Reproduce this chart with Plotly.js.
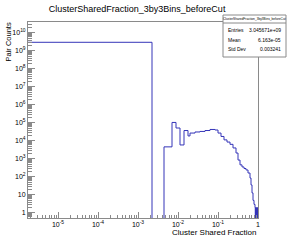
<!DOCTYPE html>
<html>
<head>
<meta charset="utf-8">
<script src="https://cdn.plot.ly/plotly-3.0.1.min.js"></script>
<style>html,body{margin:0;padding:0;background:#fff;}#chart{width:288px;height:241px;}</style>
</head>
<body>
<div id="chart"></div>
<script>
// Histogram bin edges (Cluster Shared Fraction) and counts (Pair Counts)
const binEdges = [1e-6, 0.002239, 0.00447, 0.00708, 0.00891, 0.01122, 0.01413, 0.01778, 0.01995,
  0.02661, 0.03548, 0.04732, 0.0631, 0.0841, 0.1, 0.1189, 0.1413, 0.1679, 0.1995, 0.2371,
  0.2818, 0.3162, 0.3548, 0.3981, 0.4467, 0.5012, 0.5623, 0.6310, 0.6683, 0.7079, 0.7499,
  0.7943, 0.8414, 0.855, 0.866, 0.879, 0.8913, 0.905, 0.9173, 0.931, 0.9441, 0.958, 0.9716, 0.985, 1.0];
const binCounts = [3.04e9, 0, 4700, 107000, 52500, 6000, 38000, 19000, 27500,
  31600, 33900, 38000, 43600, 40700, 27500, 17800, 11500, 8700, 6500,
  4100, 2140, 870, 470, 360, 295, 245, 166, 87, 36,
  13, 5, 3, 2, 0, 2, 0, 1, 0, 2, 0, 1, 0, 2, 0];

const histTitle = "ClusterSharedFraction_3by3Bins_beforeCut";
const xTitle = "Cluster Shared Fraction";
const yTitle = "Pair Counts";
const statLabels = ["Entries", "Mean", "Std Dev"];
const statValues = ["3.045671e+09", "6.163e-05", "0.003241"];

const xTickVals = [1e-5, 1e-4, 1e-3, 1e-2, 1e-1, 1];
const xTickText = ["10<sup>-5</sup>", "10<sup>-4</sup>", "10<sup>-3</sup>", "10<sup>-2</sup>", "10<sup>-1</sup>", "1"];
const yTickVals = [1, 10, 1e2, 1e3, 1e4, 1e5, 1e6, 1e7, 1e8, 1e9, 1e10];
const yTickText = ["1", "10", "10<sup>2</sup>", "10<sup>3</sup>", "10<sup>4</sup>", "10<sup>5</sup>",
  "10<sup>6</sup>", "10<sup>7</sup>", "10<sup>8</sup>", "10<sup>9</sup>", "10<sup>10</sup>"];

// build step outline (zero bins drawn down below the axis floor)
const floorVal = 0.05;
const sx = [binEdges[0]], sy = [floorVal];
for (let i = 0; i < binCounts.length; i++) {
  sx.push(binEdges[i]);
  sy.push(binCounts[i] > 0 ? binCounts[i] : floorVal);
}
sx.push(binEdges[binEdges.length - 1]);
sy.push(floorVal);

function minorVals(lo, hi) {
  const v = [];
  for (let d = lo; d < hi; d++) for (let m = 2; m <= 9; m++) v.push(m * Math.pow(10, d));
  return v;
}

const axisColor = '#8a8a8a';
const FAM = 'Liberation Sans, Arial, sans-serif';
const fnt = {family: FAM, size: 7, color: '#000'};

const trace = {
  x: sx, y: sy, type: 'scatter', mode: 'lines',
  line: {shape: 'hv', color: '#3434b8', width: 1},
  hoverinfo: 'none'
};

const layout = {
  width: 288, height: 241,
  margin: {l: 28, r: 30, t: 22, b: 23, pad: 0},
  paper_bgcolor: '#fff', plot_bgcolor: '#fff',
  showlegend: false,
  font: fnt,
  title: {text: histTitle, x: 0.476, xanchor: 'center', y: 0.965, yanchor: 'middle',
    font: {family: FAM, size: 9, color: '#000'}},
  xaxis: {
    type: 'log', range: [-5.75, 0], showgrid: false, zeroline: false,
    showline: true, linecolor: axisColor, linewidth: 1, mirror: true,
    ticks: 'inside', ticklen: 6, tickcolor: axisColor, tickwidth: 1,
    tickmode: 'array', tickvals: xTickVals, ticktext: xTickText,
    tickfont: fnt,
    minor: {ticks: 'inside', ticklen: 3, tickcolor: axisColor, tickmode: 'array', tickvals: minorVals(-6, 0), showgrid: false}
  },
  yaxis: {
    type: 'log', range: [-0.28, 10.61], showgrid: false, zeroline: false,
    showline: true, linecolor: axisColor, linewidth: 1, mirror: true,
    ticks: 'inside', ticklen: 7, tickcolor: axisColor, tickwidth: 1,
    tickmode: 'array', tickvals: yTickVals, ticktext: yTickText,
    tickfont: fnt,
    minor: {ticks: 'inside', ticklen: 3.5, tickcolor: axisColor, tickmode: 'array', tickvals: minorVals(-1, 11), showgrid: false}
  },
  shapes: [
    {type: 'rect', xref: 'paper', yref: 'paper', x0: (223-28)/230, x1: (286-28)/230,
      y0: (218-57)/196, y1: (218-15)/196, fillcolor: '#fff', line: {color: axisColor, width: 1}, layer: 'above'},
    {type: 'line', xref: 'paper', yref: 'paper', x0: (223-28)/230, x1: (286-28)/230,
      y0: (218-23)/196, y1: (218-23)/196, line: {color: axisColor, width: 1}, layer: 'above'}
  ],
  annotations: [
    {text: histTitle, xref: 'paper', yref: 'paper', x: (254.5-28)/230, y: (218-19)/196,
      xanchor: 'center', yanchor: 'middle', showarrow: false,
      font: {family: FAM, size: 3.2, color: '#000'}},
    {text: yTitle, xref: 'paper', yref: 'paper', x: -(28-8)/230, y: (218-21)/196,
      xanchor: 'center', yanchor: 'top', textangle: -90, showarrow: false,
      font: {family: FAM, size: 7.5, color: '#000'}},
    {text: xTitle, xref: 'paper', yref: 'paper', x: 1, y: -(233-218)/196,
      xanchor: 'right', yanchor: 'middle', showarrow: false,
      font: {family: FAM, size: 8, color: '#000'}}
  ]
};

const rowY = [30, 39.5, 49];
statLabels.forEach((lab, i) => {
  layout.annotations.push({text: lab, xref: 'paper', yref: 'paper', x: (226-28)/230, y: (218-rowY[i])/196,
    xanchor: 'left', yanchor: 'middle', showarrow: false,
    font: {family: FAM, size: 5, color: '#000'}});
  layout.annotations.push({text: statValues[i], xref: 'paper', yref: 'paper', x: (283-28)/230, y: (218-rowY[i])/196,
    xanchor: 'right', yanchor: 'middle', showarrow: false,
    font: {family: FAM, size: 5, color: '#000'}});
});

Plotly.newPlot('chart', [trace], layout, {staticPlot: true, displayModeBar: false});
</script>
</body>
</html>
